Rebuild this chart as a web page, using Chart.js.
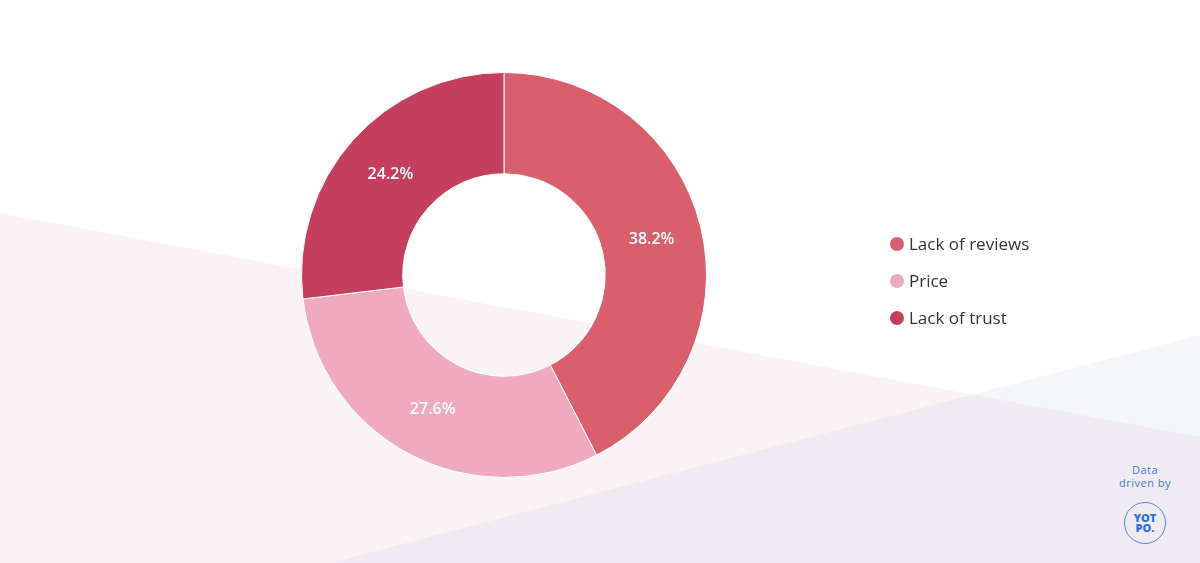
<!DOCTYPE html>
<html><head><meta charset="utf-8">
<script src="https://cdn.jsdelivr.net/npm/chart.js@4"></script>
<style>
html,body{margin:0;padding:0;width:1200px;height:563px;overflow:hidden;background:#fff;font-family:"Open Sans",sans-serif}
.bg{position:absolute;left:0;top:0;width:1200px;height:563px}
#wrap{position:absolute;left:0;top:0;width:1008px;height:563px}
#legend{position:absolute;left:890px;top:225px;font-size:17px;color:#333}
#legend div{height:37px;display:flex;align-items:center}
#legend span.dot{display:inline-block;width:14px;height:14px;border-radius:50%;margin-right:5px}
#brand{position:absolute;left:1110px;top:463px;width:70px;text-align:center;color:#3b7be0;font-size:11px;line-height:13px;letter-spacing:0.5px}
#logo{margin:13px auto 0;width:40px;height:40px;border:1.5px solid #4a8af0;border-radius:50%;display:flex;align-items:center;justify-content:center;font-weight:800;font-size:11px;line-height:10px;color:#2f6fe0;letter-spacing:0}
</style></head><body>
<svg class="bg" width="1200" height="563">
<polygon points="0,213 1200,437 1200,563 0,563" fill="rgb(235,190,205)" fill-opacity="0.2"/>
<polygon points="330,563 1200,335 1200,563" fill="rgb(200,210,230)" fill-opacity="0.2"/>
</svg>
<div id="wrap"><canvas id="c"></canvas></div>
<div id="legend"></div>
<div id="brand">Data<br>driven by<div id="logo">YOT<br>PO.</div></div>
<script>
const categories=["Lack of reviews","Price","Lack of trust"];
const values=[38.2,27.6,24.2];
const labels=["38.2%","27.6%","24.2%"];
const colors=["#d95f6c","#f0aac0","#c43f5e"];
const lg=document.getElementById('legend');
categories.forEach((c,i)=>{const d=document.createElement('div');d.innerHTML='<span class="dot" style="background:'+colors[i]+'"></span>'+c;lg.appendChild(d);});
const labelPlugin={id:'lbl',afterDatasetsDraw(ch){const ctx=ch.ctx;ctx.save();ctx.fillStyle='#fff';ctx.font='600 16px "Open Sans"';ctx.textAlign='center';ctx.textBaseline='middle';
ch.getDatasetMeta(0).data.forEach((a,i)=>{const p=a.tooltipPosition();ctx.fillText(labels[i],p.x,p.y);});ctx.restore();}};
new Chart(document.getElementById('c'),{type:'doughnut',
data:{labels:categories,datasets:[{data:values,backgroundColor:colors,borderColor:'#fff',borderWidth:1}]},
options:{responsive:true,maintainAspectRatio:false,animation:false,cutout:'50%',
layout:{padding:{top:72,bottom:85}},
plugins:{legend:{display:false},tooltip:{enabled:false}}},plugins:[labelPlugin]});
</script></body></html>
